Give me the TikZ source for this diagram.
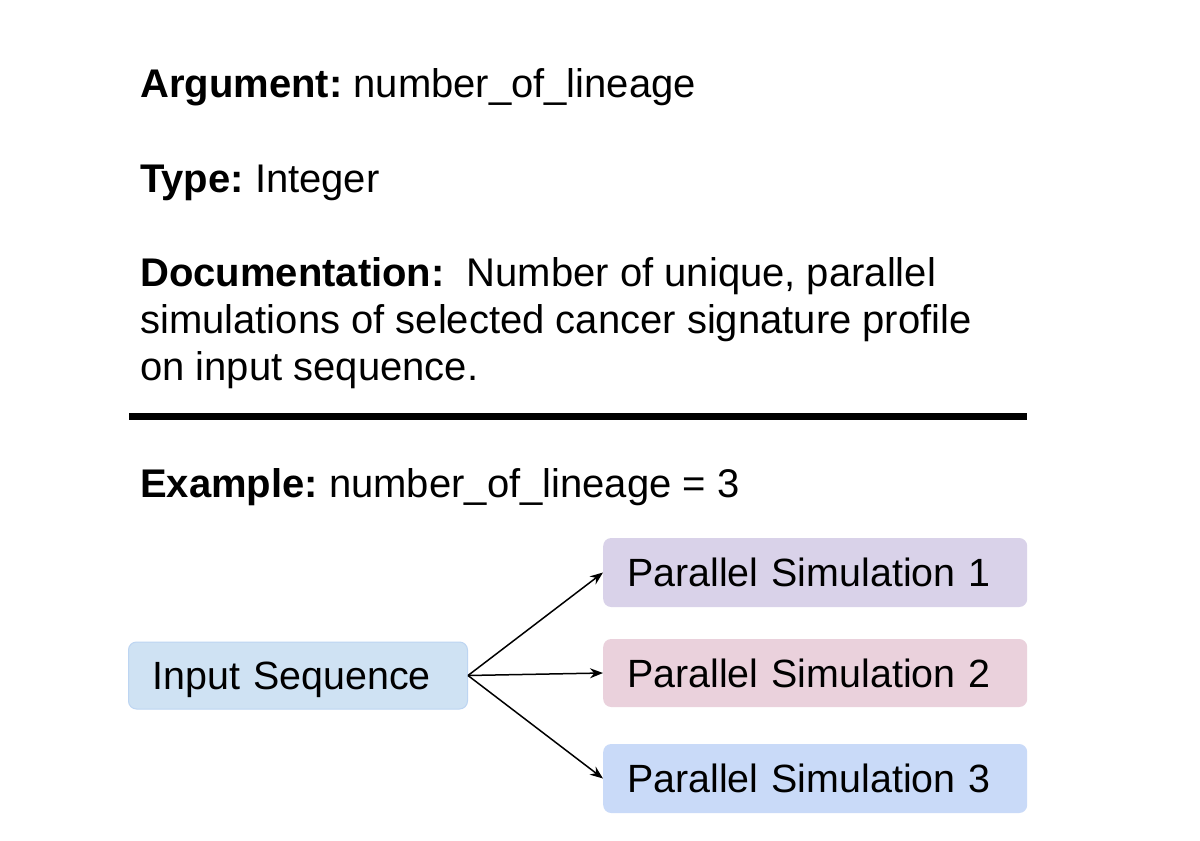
\documentclass[tikz,border=0pt]{standalone}
\usepackage{fontspec}
\setmainfont{Liberation Sans}
\usetikzlibrary{arrows.meta}
\definecolor{isfill}{HTML}{CFE2F3}
\definecolor{isdraw}{HTML}{BDD5F2}
\definecolor{psa}{HTML}{D9D2E9}
\definecolor{psb}{HTML}{EAD1DC}
\definecolor{psc}{HTML}{C9DAF8}
\tikzset{
  lbl/.style={anchor=base west, inner sep=0pt, font=\fontsize{40}{47}\selectfont\frenchspacing},
  box/.style={rounded corners=8pt, inner ysep=0pt, inner xsep=24pt, align=left,
    text height=28.4pt, text depth=0pt, font=\fontsize{39.4}{47}\selectfont\frenchspacing},
  conn/.style={line width=1.5pt, -{Stealth[length=13pt,width=10pt]}}
}
\begin{document}
\begin{tikzpicture}[x=1pt,y=-1pt]
\useasboundingbox[fill=white] (0,0) rectangle (1200,841);
\node[lbl] (arg) at (140,97) {\textbf{Argument:} number\_of\_lineage};
\node[lbl] (type) at (140,192) {\textbf{Type:} Integer};
\node[lbl, align=left] (doc) at (140,380) {\textbf{Documentation:}\ \ Number of unique, parallel\\simulations of selected cancer signature profile\\on input sequence.};
\coordinate (r1) at (129,416);
\coordinate (r2) at (1027,416);
\draw[line width=7pt] (r1) -- (r2);
\node[lbl] (ex) at (140,497) {\textbf{Example:} number\_of\_lineage = 3};
\node[box, fill=isfill, draw=isdraw, line width=1pt, text width=291pt, minimum height=67pt, anchor=west] (is) at (128,675.5) {Input Sequence};
\node[box, fill=psa, text width=376pt, minimum height=69pt, anchor=west] (p1) at (603,572.5) {Parallel Simulation 1};
\node[box, fill=psb, text width=376pt, minimum height=68pt, anchor=west] (p2) at (603,673) {Parallel Simulation 2};
\node[box, fill=psc, text width=376pt, minimum height=69pt, anchor=west] (p3) at (603,778.5) {Parallel Simulation 3};
\draw[conn] (is.east) -- (p1.west);
\draw[conn] (is.east) -- (p2.west);
\draw[conn] (is.east) -- (p3.west);
\end{tikzpicture}
\end{document}
